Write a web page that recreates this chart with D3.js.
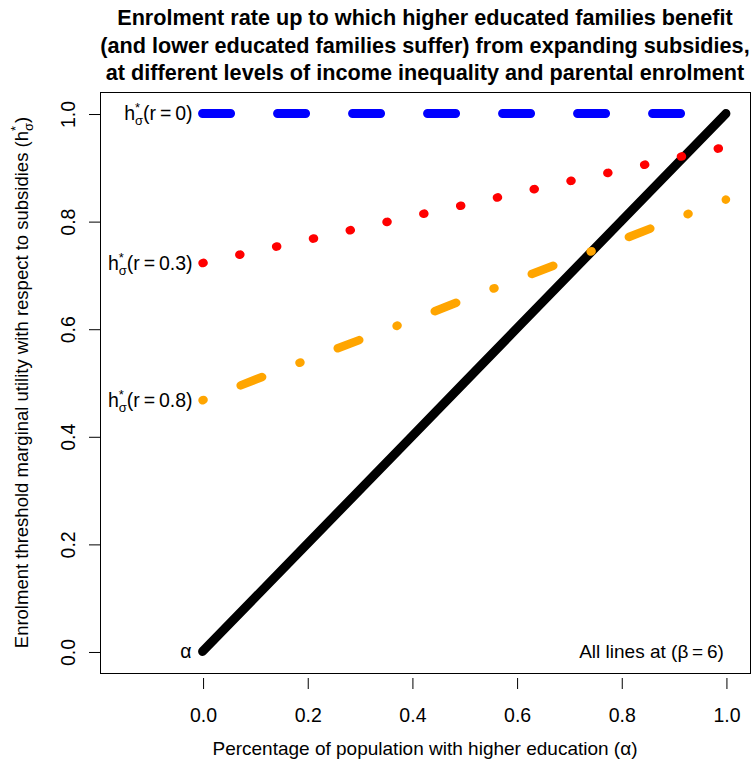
<!DOCTYPE html>
<html>
<head>
<meta charset="utf-8">
<script src="https://cdn.jsdelivr.net/npm/d3@7"></script>
<style>
  body { margin: 0; background: #fff; }
  svg text { font-family: 'Liberation Sans', Arial, Helvetica, sans-serif; fill: #000; }
</style>
</head>
<body>
<svg id="chart" width="755" height="767"></svg>
<script>
// Enrolment threshold h*_sigma against the share with higher education (alpha), beta = 6
const alphaGrid = [0, 0.1, 0.2, 0.3, 0.4, 0.5, 0.6, 0.7, 0.8, 0.9, 1.0];
const diagonal  = [0, 0.1, 0.2, 0.3, 0.4, 0.5, 0.6, 0.7, 0.8, 0.9, 1.0];   // h = alpha
const hStarR0   = [1, 1, 1, 1, 1, 1, 1, 1, 1, 1, 1];
const hStarR03  = [0.722, 0.744, 0.765, 0.787, 0.809, 0.830, 0.852, 0.874, 0.895, 0.917, 0.938];
const hStarR08  = [0.467, 0.505, 0.542, 0.579, 0.616, 0.654, 0.691, 0.728, 0.765, 0.803, 0.840];
const rLabels   = ["0", "0.3", "0.8"];
const xTicks    = [0, 0.2, 0.4, 0.6, 0.8, 1.0];
const yTicks    = [0, 0.2, 0.4, 0.6, 0.8, 1.0];
const titleLines = [
  "Enrolment rate up to which higher educated families benefit",
  " (and lower educated families suffer) from expanding subsidies,",
  "at different levels of income inequality and parental enrolment"
];
const xTitle = "Percentage of population with higher education (\u03B1)";
const yTitle = "Enrolment threshold marginal utility with respect to subsidies (";
const noteText = "All lines at (\u03B2\u2009=\u20096)";

const svg = d3.select("#chart");
const box = { left: 100, right: 750, top: 92, bottom: 673 };

// axis limits of [-0.15, 1] x [0, 1], padded 4% each side
const xlim = [-0.15, 1], ylim = [0, 1];
const pad = (l) => [l[0] - 0.04 * (l[1] - l[0]), l[1] + 0.04 * (l[1] - l[0])];
const x = d3.scaleLinear().domain(pad(xlim)).range([box.left, box.right]);
const y = d3.scaleLinear().domain(pad(ylim)).range([box.bottom, box.top]);

const line = d3.line().x(d => x(d[0])).y(d => y(d[1]));
const pairs = (vals) => alphaGrid.map((a, i) => [a, vals[i]]);

// ---- curves ----
const curves = svg.append("g").attr("fill", "none").attr("stroke-linecap", "round");

curves.append("path").attr("d", line(pairs(diagonal)))
  .attr("stroke", "#000").attr("stroke-width", 9);

curves.append("path").attr("d", line(pairs(hStarR0)))
  .attr("stroke", "#0000FF").attr("stroke-width", 9)
  .attr("stroke-dasharray", "28 47");

curves.append("path").attr("d", line(pairs(hStarR03)))
  .attr("stroke", "#FF0000").attr("stroke-width", 8.5)
  .attr("stroke-dasharray", "1 36.7");

curves.append("path").attr("d", line(pairs(hStarR08)))
  .attr("stroke", "#FFA500").attr("stroke-width", 8.5)
  .attr("stroke-dasharray", "1 39.9 23 40");

// ---- frame ----
svg.append("rect")
  .attr("x", box.left + 0.5).attr("y", box.top + 0.5)
  .attr("width", box.right - box.left).attr("height", box.bottom - box.top)
  .attr("fill", "none").attr("stroke", "#000").attr("stroke-width", 1);

const fmt = d3.format(".1f");

// ---- x axis ----
const gx = svg.append("g").attr("transform", `translate(0.5,${box.bottom + 5})`)
  .call(d3.axisBottom(x).tickValues(xTicks).tickFormat(fmt).tickSize(11).tickSizeOuter(0));
gx.select(".domain").remove();
gx.selectAll(".tick line").attr("stroke", "#000");
gx.selectAll(".tick text").attr("y", 37).attr("dy", "0.35em")
  .style("font-size", "19.5px").style("font-family", null);

// ---- y axis ----
const gy = svg.append("g").attr("transform", `translate(${box.left},0.5)`)
  .call(d3.axisLeft(y).tickValues(yTicks).tickFormat(fmt).tickSize(11).tickSizeOuter(0));
gy.select(".domain").remove();
gy.selectAll(".tick line").attr("stroke", "#000");
gy.selectAll(".tick text")
  .attr("x", 0).attr("y", 0).attr("dy", "0.35em")
  .attr("text-anchor", "middle")
  .attr("transform", "translate(-32,0) rotate(-90)")
  .style("font-size", "19.5px").style("font-family", null);

// ---- helpers for h*_sigma notation ----
function textWidth(str, size) {
  const t = svg.append("text").style("font-size", size + "px").text(str);
  const w = t.node().getComputedTextLength();
  t.remove();
  return w;
}
const SCRIPT = 13;
const starW = textWidth("*", SCRIPT);

function appendHSigma(text, base) {
  text.append("tspan").style("font-size", base + "px").text("h");
  text.append("tspan").style("font-size", SCRIPT + "px").attr("dy", -8).text("*");
  text.append("tspan").style("font-size", SCRIPT + "px").attr("dx", -starW).attr("dy", 13).text("\u03C3");
}

// series labels at the left end of each curve
[hStarR0, hStarR03, hStarR08].forEach((vals, i) => {
  const t = svg.append("text").style("font-size", "19.5px");
  appendHSigma(t, 19.5);
  t.append("tspan").style("font-size", "19.5px").attr("dy", -5)
    .text("(r\u2009=\u2009" + rLabels[i] + ")");
  const bb = t.node().getBBox();
  t.attr("transform", `translate(${x(0) - 10 - (bb.x + bb.width)},${y(vals[0]) + 6.5})`);
});

// alpha marker at the diagonal's origin
svg.append("text").attr("x", x(0) - 11).attr("y", y(diagonal[0]))
  .attr("dy", "0.35em").attr("text-anchor", "end")
  .style("font-size", "19.5px").text("\u03B1");

// note
svg.append("text").attr("x", x(1) - 2).attr("y", y(0)).attr("dy", "0.35em")
  .attr("text-anchor", "end").style("font-size", "19px").text(noteText);

// ---- axis titles ----
const cx = (box.left + box.right) / 2;
svg.append("text").attr("x", cx).attr("y", 748).attr("dy", "0.35em")
  .attr("text-anchor", "middle").style("font-size", "19px").text(xTitle);

const yt = svg.append("text").style("font-size", "18.5px");
yt.append("tspan").text(yTitle);
appendHSigma(yt, 18.5);
yt.append("tspan").style("font-size", "18.5px").attr("dy", -5).text(")");
const ybb = yt.node().getBBox();
yt.attr("transform", `translate(28,${(box.top + box.bottom) / 2}) rotate(-90) translate(${-ybb.width / 2},0)`);

// ---- title ----
const tg = svg.append("g");
const titleSize = 22;
const tl = tg.selectAll("text").data(titleLines).join("text")
  .attr("text-anchor", "middle")
  .style("font-size", titleSize + "px").style("font-weight", "bold")
  .text(d => d);
const k = 616 / tl.nodes()[0].getComputedTextLength();
tl.attr("transform", (d, i) => `translate(${cx},${25 + i * 27.5}) scale(${k},1)`);
</script>
</body>
</html>
